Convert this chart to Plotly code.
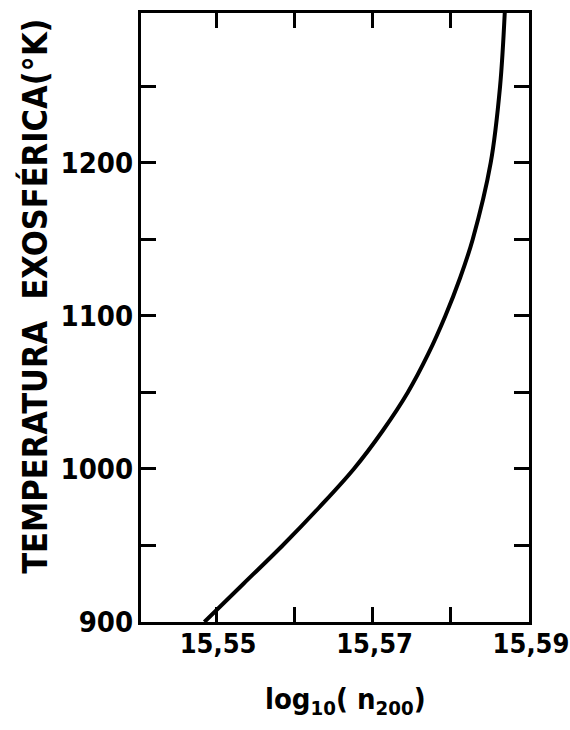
import plotly.graph_objects as go

# Exospheric temperature vs. log10 of the 200 km density
temperatura = [900, 925, 950, 975, 1000, 1025, 1050, 1075, 1100, 1125, 1150, 1200, 1250, 1298]
log_n200 = [15.5485, 15.5535, 15.5585, 15.5632, 15.5676, 15.5713, 15.5745, 15.5771,
            15.5793, 15.5812, 15.5828, 15.5851, 15.5863, 15.5869]

x_tickvals = [15.55, 15.56, 15.57, 15.58, 15.59]
x_ticktext = ["15,55", "", "15,57", "", "15,59"]
y_tickvals = [900, 950, 1000, 1050, 1100, 1150, 1200, 1250]
y_ticktext = ["900", "", "1000", "", "1100", "", "1200", ""]

FONT = "DejaVu Sans Condensed, DejaVu Sans, sans-serif"

fig = go.Figure(
    go.Scatter(
        x=log_n200, y=temperatura, mode="lines",
        line=dict(color="black", width=4, shape="spline", smoothing=1.0),
        hoverinfo="skip",
    )
)

axis_common = dict(
    showline=True, linecolor="black", linewidth=3, mirror="ticks",
    ticks="inside", ticklen=15, tickwidth=3, tickcolor="black",
    showgrid=False, zeroline=False, automargin=False,
    ticklabeloverflow="allow",
)

fig.update_xaxes(
    range=[15.5404, 15.59], tickvals=x_tickvals, ticktext=x_ticktext,
    ticklabelstandoff=-4, ticklabelshift=2,
    tickfont=dict(family=FONT, size=27, color="black", weight="bold"),
    **axis_common,
)
fig.update_yaxes(
    range=[900, 1298], tickvals=y_tickvals, ticktext=y_ticktext,
    ticklabelstandoff=-1,
    tickfont=dict(family=FONT, size=29, color="black", weight="bold"),
    **axis_common,
)

# Axis titles placed as annotations
fig.add_annotation(
    text="TEMPERATURA  EXOSFÉRICA(°K)", textangle=-90,
    xref="paper", yref="paper", x=-0.273, y=0.534,
    xanchor="center", yanchor="middle", showarrow=False,
    font=dict(family=FONT, size=34, color="black", weight="bold"),
)
fig.add_annotation(
    text="log<sub>10</sub>( n<sub>200</sub>)",
    xref="paper", yref="paper", x=0.528, y=-0.13,
    xanchor="center", yanchor="middle", showarrow=False,
    font=dict(family=FONT, size=29, color="black", weight="bold"),
)

fig.update_layout(
    width=570, height=730,
    margin=dict(l=141, r=41, t=13, b=108),
    paper_bgcolor="white", plot_bgcolor="white",
    showlegend=False,
)

fig.write_html("out.html")
